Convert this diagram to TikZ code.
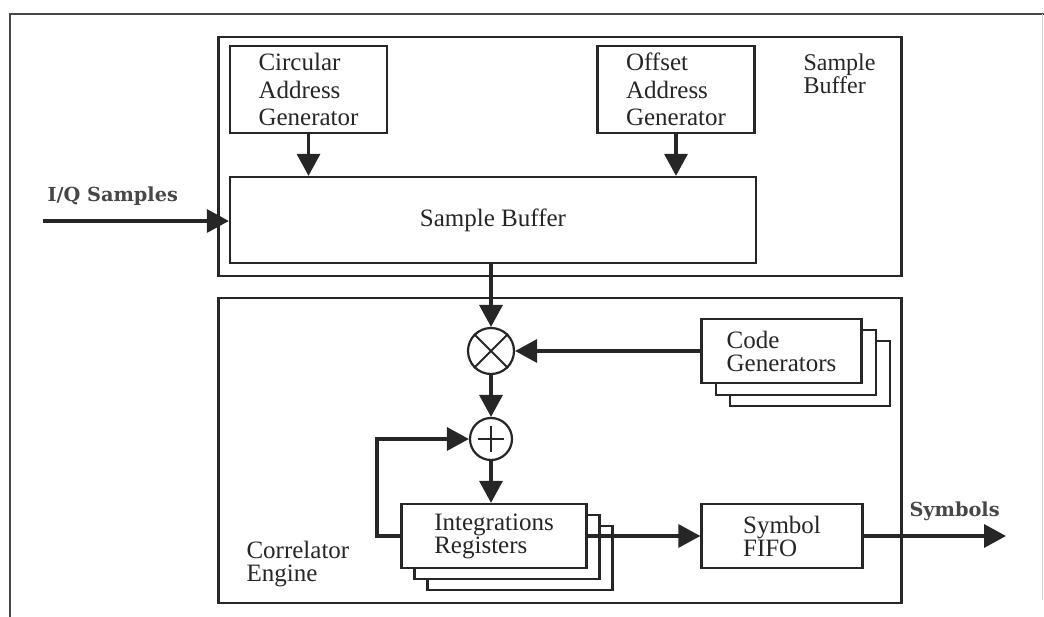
\documentclass[tikz,border=0pt]{standalone}
\usepackage{fontspec}
\setmainfont{Liberation Serif}
\newfontfamily\labelfont{DejaVu Serif}
\usetikzlibrary{arrows.meta,calc}

\tikzset{
  ink/.style={draw=black!85},
  frame/.style={ink, line width=2.3pt},
  blockbox/.style={ink, line width=2.3pt, fill=white, inner sep=0pt,
    font=\fontsize{25}{23}\selectfont, align=left, text=black!85},
  flow/.style={draw=black!85, line width=3.4pt,
    -{Triangle[length=22pt,width=23pt]}},
  opcircle/.style={circle, ink, line width=2.2pt, fill=white,
    minimum size=46pt, inner sep=0pt},
  ioText/.style={font=\labelfont\bfseries\fontsize{19.3}{22}\selectfont, text=black!72},
  areaText/.style={font=\fontsize{24}{21}\selectfont, align=left, text=black!85}
}

\begin{document}
\begin{tikzpicture}[x=1pt, y=-1pt]
\useasboundingbox (0,0) rectangle (1044,617);

% page border
\draw[line width=2.4pt, draw=black!72] (1044,14) -- (10,14) -- (10,617);
\draw[line width=0.8pt, draw=black!18] (1042,14) -- (1042,600);

% ---------------- sample buffer section ----------------
\node[frame, minimum width=683pt, minimum height=239pt, inner sep=0pt] (sbframe) at (560,156.5) {};
\node[areaText, anchor=north west] (sblabel) at (800,50) {Sample\\Buffer};

\node[blockbox, minimum width=157pt, minimum height=87pt,
      font=\fontsize{25}{27.5}\selectfont] (cag) at (308.5,89.5) {Circular\\Address\\Generator};
\node[blockbox, minimum width=157pt, minimum height=87pt,
      font=\fontsize{25}{27.5}\selectfont] (oag) at (676,89.5) {Offset\\Address\\Generator};

\node[blockbox, minimum width=526pt, minimum height=86pt] (sbuf) at (493,220) {Sample Buffer};

\draw[flow] (cag.south) -- (cag.south |- sbuf.north);
\draw[flow] (oag.south) -- (oag.south |- sbuf.north);

% input samples
\coordinate (iqstart) at (43,221);
\node[ioText, anchor=south west] (iqlabel) at (44,209) {I/Q Samples};
\draw[flow] (iqstart) -- (iqstart -| sbuf.west);

% ---------------- correlator engine section ----------------
\node[frame, minimum width=683pt, minimum height=305pt, inner sep=0pt] (ceframe) at (560,450.5) {};
\node[areaText, anchor=north west, font=\fontsize{25}{23}\selectfont] (celabel) at (243,538) {Correlator\\Engine};

% multiplier and adder
\node[opcircle] (mult) at (491,351) {};
\draw[ink, line width=1.9pt] (mult.north west) -- (mult.south east)
                             (mult.north east) -- (mult.south west);
\node[opcircle, minimum size=42pt] (adder) at (491,439) {};
\draw[ink, line width=2.2pt] ($(adder.center)+(-13,0)$) -- ($(adder.center)+(13,0)$)
                             ($(adder.center)+(0,-13)$) -- ($(adder.center)+(0,13)$);

% code generators (stacked copies)
\node[blockbox, minimum width=160pt, minimum height=65pt] (cg3) at (810,373.5) {};
\node[blockbox, minimum width=160pt, minimum height=65pt] (cg2) at (796,362.5) {};
\node[blockbox, minimum width=160pt, minimum height=64pt] (cg) at (781.5,351) {Code\\Generators};

% integration registers (stacked copies)
\node[blockbox, minimum width=185pt, minimum height=64pt] (ir3) at (520,558) {};
\node[blockbox, minimum width=185pt, minimum height=64pt] (ir2) at (507,547) {};
\node[blockbox, minimum width=185pt, minimum height=64pt] (ir) at (494,536) {Integrations\\Registers};

% symbol FIFO
\node[blockbox, minimum width=161pt, minimum height=64pt] (fifo) at (782,536) {Symbol\\FIFO};

% connections
\draw[flow] (sbuf.south -| mult.north) -- (mult.north);
\draw[flow] (cg.west) -- (mult.east);
\draw[flow] (mult.south) -- (adder.north);
\draw[flow] (adder.south) -- (ir.north -| adder.south);
\coordinate (fbcorner) at (377,536);
\draw[flow] (ir.west) -- (fbcorner) |- (adder.west);
\draw[flow] (ir.east) -- (fifo.west);

% output symbols
\coordinate (symend) at (1006,536);
\node[ioText, anchor=south west] (symlabel) at (906,524) {Symbols};
\draw[flow] (fifo.east) -- (symend);

\end{tikzpicture}
\end{document}
